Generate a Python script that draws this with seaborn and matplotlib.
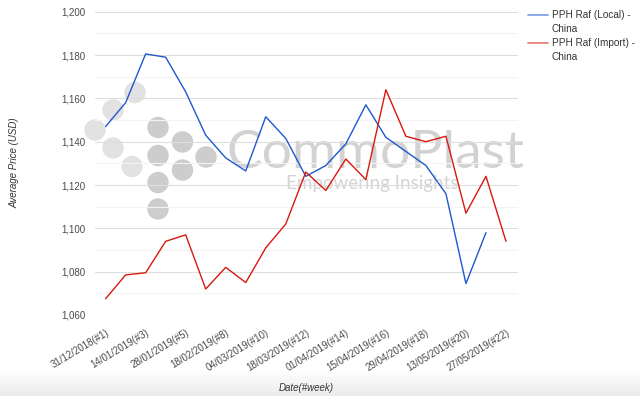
import numpy as np
import pandas as pd
import matplotlib
matplotlib.use("Agg")
import matplotlib.pyplot as plt
import seaborn as sns
from matplotlib.patches import Ellipse
from matplotlib.lines import Line2D

# data
weeks = ["31/12/2018(#1)", "07/01/2019(#2)", "14/01/2019(#3)", "21/01/2019(#4)",
         "28/01/2019(#5)", "11/02/2019(#7)", "18/02/2019(#8)", "25/02/2019(#9)",
         "04/03/2019(#10)", "11/03/2019(#11)", "18/03/2019(#12)", "25/03/2019(#13)",
         "01/04/2019(#14)", "08/04/2019(#15)", "15/04/2019(#16)", "22/04/2019(#17)",
         "29/04/2019(#18)", "06/05/2019(#19)", "13/05/2019(#20)", "20/05/2019(#21)",
         "27/05/2019(#22)"]
local_price = [1147, 1158, 1180.5, 1179, 1163, 1143, 1132.5, 1126.5, 1151.5, 1141.5,
               1124, 1129, 1139, 1157, 1142, 1135.5, 1129, 1116, 1074.5, 1098, np.nan]
import_price = [1067.5, 1078.5, 1079.5, 1094, 1097, 1072, 1082, 1075, 1091, 1102,
                1126, 1117.5, 1132, 1122.5, 1164, 1142.5, 1140, 1142.5, 1107, 1124, 1094]
series_names = ["PPH Raf (Local) - China", "PPH Raf (Import) - China"]
legend_labels = ["PPH Raf (Local) -\nChina", "PPH Raf (Import) -\nChina"]

df = pd.DataFrame({
    "week": weeks * 2,
    "price": local_price + import_price,
    "series": [series_names[0]] * len(weeks) + [series_names[1]] * len(weeks),
})
df = df.dropna()

sns.set_style("white")
plt.rcParams["font.family"] = ["Liberation Sans", "DejaVu Sans"]

W, H = 640, 396
fig = plt.figure(figsize=(6.4, 3.96), dpi=100)

# light grey shade along the bottom of the screenshot
bg = fig.add_axes([0, 0, 1, 26 / H], zorder=-5)
grad = np.linspace(1.0, 0.92, 50).reshape(-1, 1)
bg.imshow(grad, cmap="gray", vmin=0, vmax=1, aspect="auto", extent=[0, 1, 1, 0])
bg.axis("off")

ax = fig.add_axes([95 / W, 1 - 315 / H, 423 / W, 303.3 / H])

# watermark (logo circles + text), in pixel positions of the figure, kept behind the lines
circ_light = [(95, 130), (113, 110), (135, 92.5), (113, 148), (132, 166.5)]
circ_dark = [(158, 127.5), (158, 155.5), (158, 182.5), (158, 209), (182.5, 142), (182.5, 170), (206, 157)]
for cols, pts in (("#e2e2e2", circ_light), ("#cdcdcd", circ_dark)):
    for (px, py) in pts:
        fig.patches.append(Ellipse((px / W, 1 - py / H), 20 / W, 20 / H,
                                   transform=fig.transFigure, color=cols, zorder=-1))
fig.text(375.5 / W, 1 - 168 / H, "CommoPlast", fontsize=38.5, color="#d2d2d2",
         family=["Lato", "DejaVu Sans"], va="baseline", ha="center", zorder=-1)
fig.text(372.5 / W, 1 - 189 / H, "Empowering Insights", fontsize=13.5, color="#d4d4d4",
         family=["Lato", "DejaVu Sans"], va="baseline", ha="center", zorder=-1)
ax.patch.set_alpha(0)

palette = {series_names[0]: "#1f58cf", series_names[1]: "#d9180f"}
sns.lineplot(data=df, x="week", y="price", hue="series", palette=palette,
             sort=False, linewidth=1.0, ax=ax, legend=False)

ax.set_ylim(1060, 1200)
ax.set_xlim(-0.53, 20.6)
ax.set_yticks(np.arange(1060, 1201, 20))
ax.set_yticks(np.arange(1070, 1200, 20), minor=True)
ax.set_yticklabels([f"{v:,}" for v in range(1060, 1201, 20)])
ax.set_xticks(range(0, len(weeks), 2))
ax.set_xticklabels(weeks[::2], rotation=31, ha="right", rotation_mode="anchor")
ax.grid(True, axis="y", which="major", color="#dedede", linewidth=0.8)
ax.grid(True, axis="y", which="minor", color="#f3f3f3", linewidth=0.8)
ax.grid(False, axis="x")
ax.set_axisbelow(True)
for s in ax.spines.values():
    s.set_visible(False)
ax.tick_params(axis="both", which="both", length=0, labelsize=7, labelcolor="#4a4a4a")
ax.tick_params(axis="y", pad=7)
ax.tick_params(axis="x", pad=9)
ax.set_xlabel("")
ax.set_ylabel("")

fig.text(306 / W, 1 - 388 / H, "Date(#week)", fontsize=7, style="italic",
         color="#333333", ha="center", va="center")
fig.text(14 / W, 1 - 163 / H, "Average Price (USD)", fontsize=7, style="italic",
         color="#333333", ha="center", va="center", rotation=90)

# legend drawn by hand: sample line beside the first text line
for i, name in enumerate(series_names):
    y0 = 15 + i * 28
    fig.add_artist(Line2D([528 / W, 548 / W], [1 - y0 / H, 1 - y0 / H],
                          transform=fig.transFigure, color=palette[name],
                          alpha=0.55, linewidth=1.3))
    fig.text(552 / W, 1 - (y0 - 5) / H, legend_labels[i], fontsize=7.2,
             color="#333333", ha="left", va="top", linespacing=1.45)

fig.savefig("out.png", dpi=100)
